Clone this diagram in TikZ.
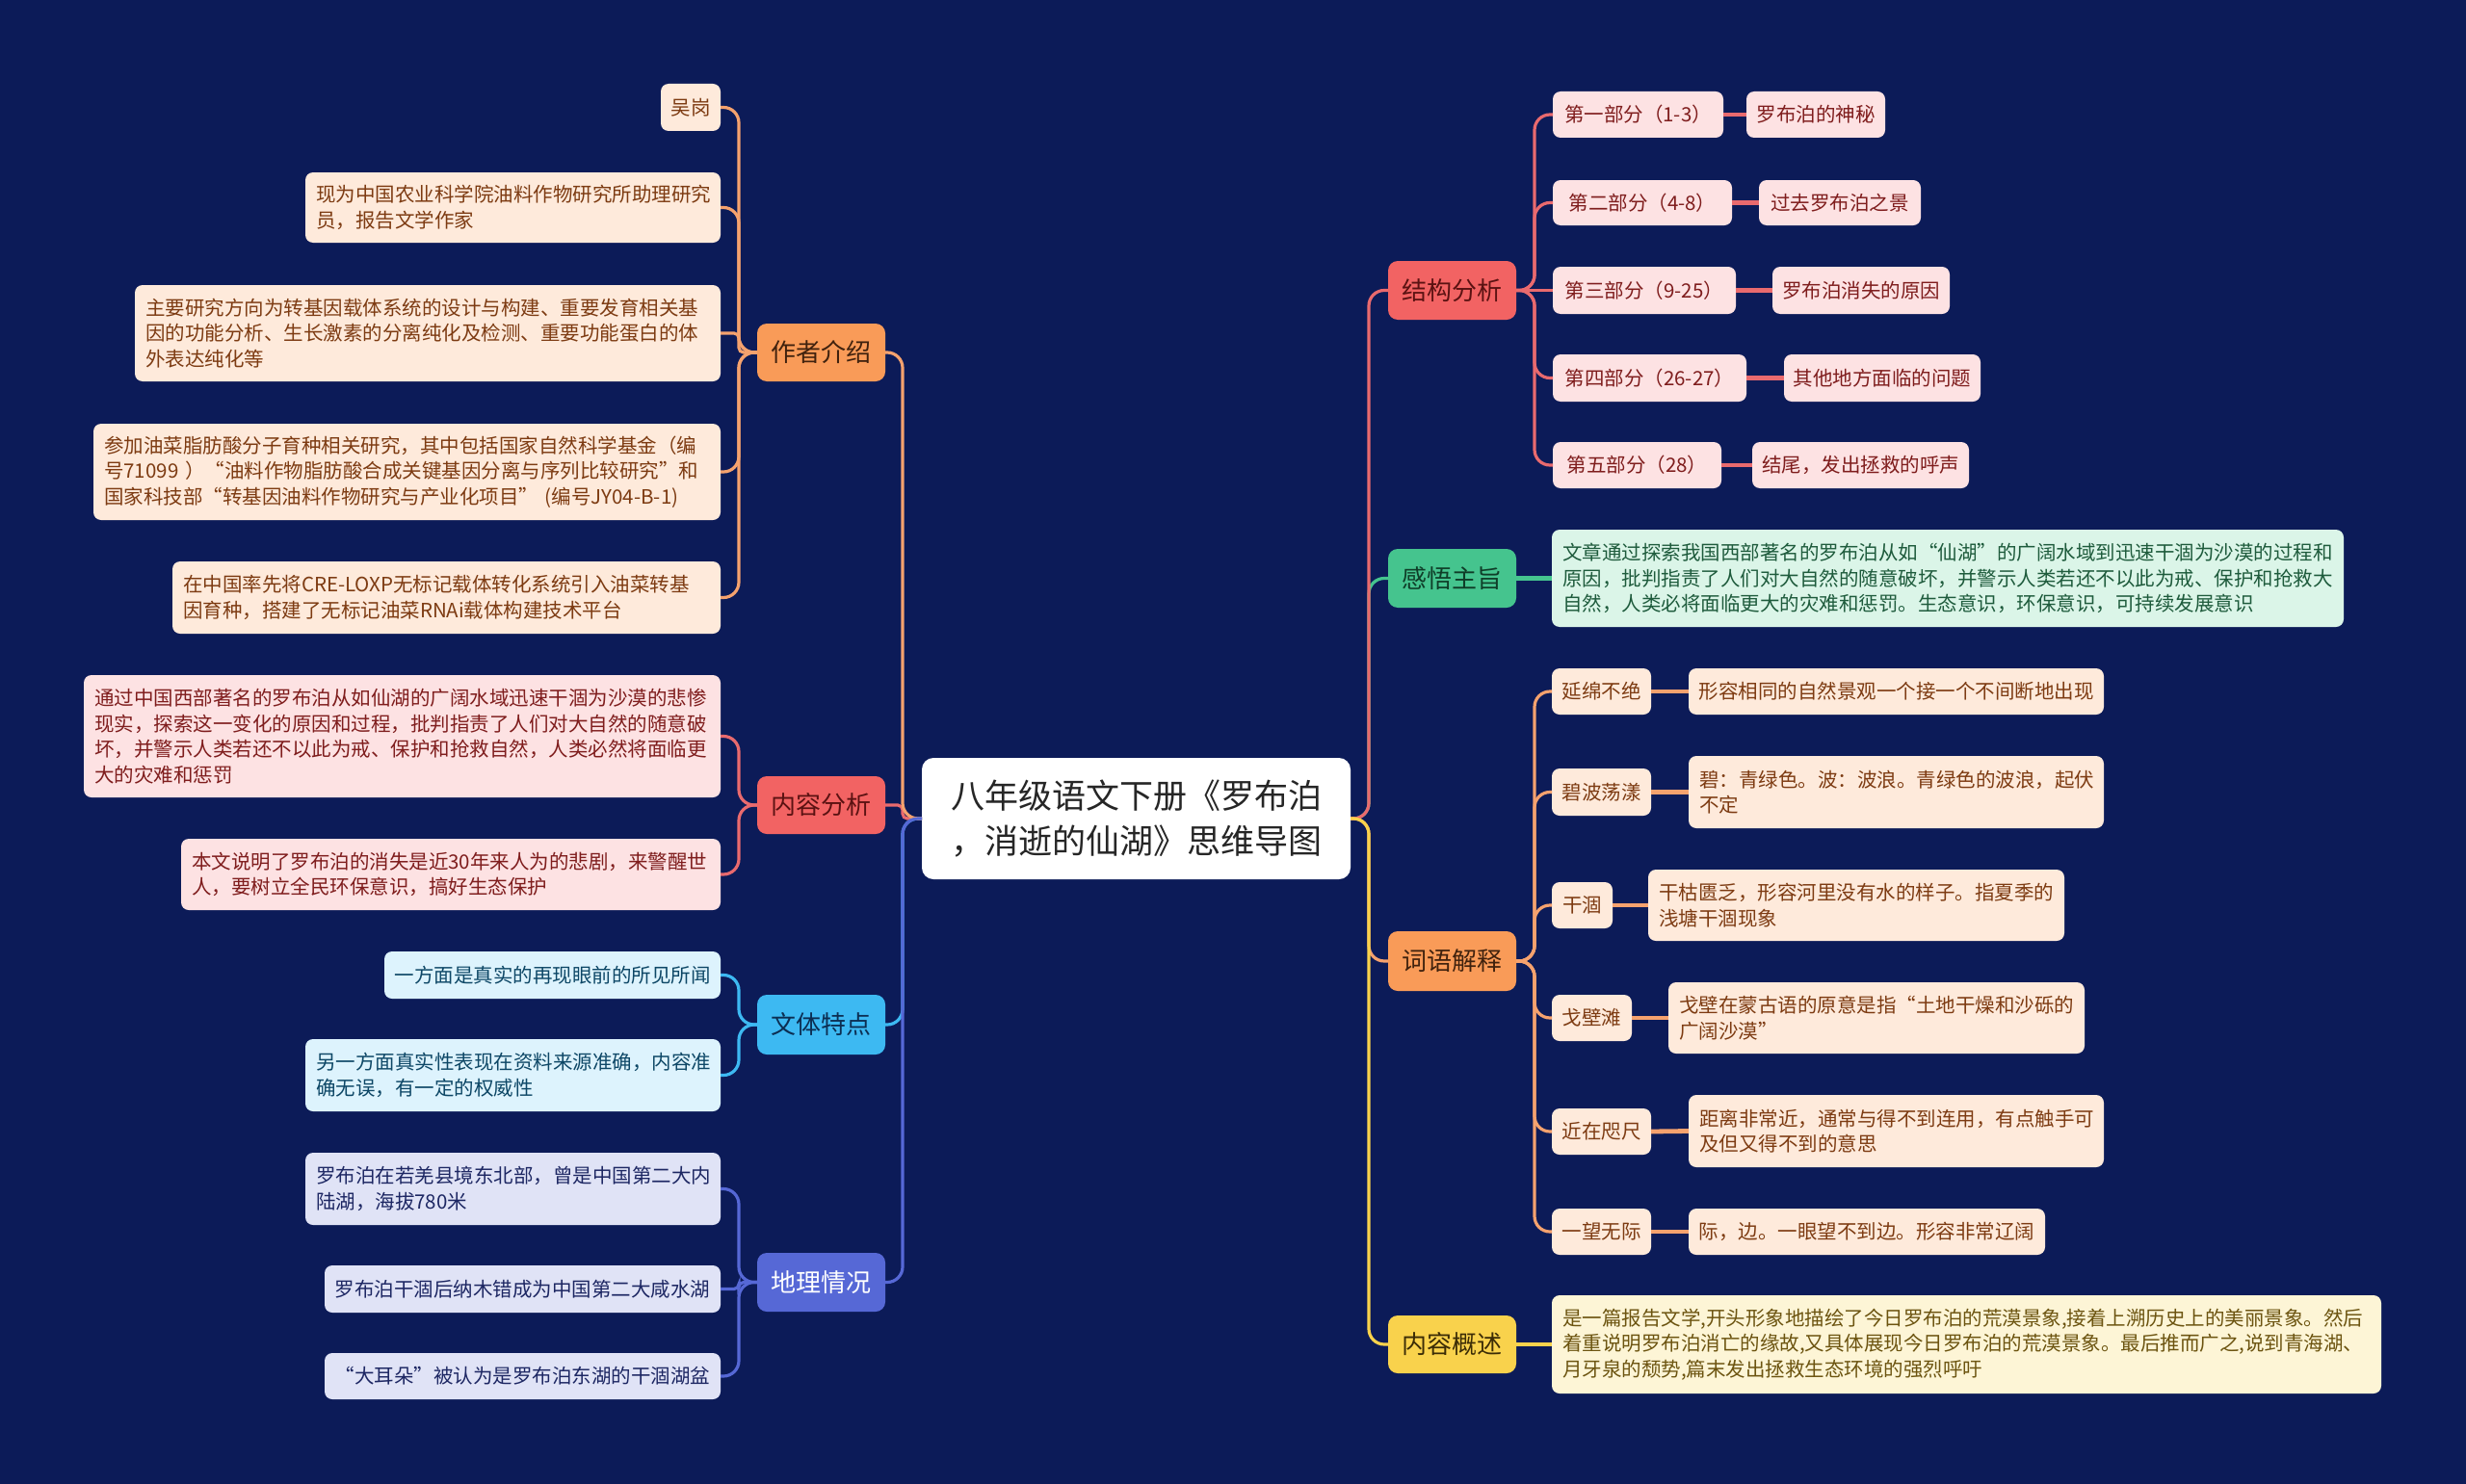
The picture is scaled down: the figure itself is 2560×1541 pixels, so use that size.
\documentclass[tikz,border=0pt]{standalone}
\usepackage{fontspec}
\setmainfont{Noto Sans CJK SC}
\definecolor{bg}{HTML}{0C1B58}
\definecolor{nO}{HTML}{F99B58}\definecolor{lO}{HTML}{F5A26E}\definecolor{fO}{HTML}{FEEADB}\definecolor{tO}{HTML}{7D3B12}\definecolor{mO}{HTML}{40220E}
\definecolor{nR}{HTML}{F26363}\definecolor{lR}{HTML}{E96A6E}\definecolor{fR}{HTML}{FDE2E3}\definecolor{tR}{HTML}{7F1D1D}\definecolor{mR}{HTML}{5B1212}
\definecolor{nB}{HTML}{3DB9F2}\definecolor{lB}{HTML}{3DB9F2}\definecolor{fB}{HTML}{DDF3FD}\definecolor{tB}{HTML}{0D4766}\definecolor{mB}{HTML}{0C2E52}
\definecolor{nI}{HTML}{5668D6}\definecolor{lI}{HTML}{5668D6}\definecolor{fI}{HTML}{E0E3F6}\definecolor{tI}{HTML}{1D2763}\definecolor{mI}{HTML}{FFFFFF}
\definecolor{nG}{HTML}{45C48E}\definecolor{lG}{HTML}{45C48E}\definecolor{fG}{HTML}{DBF5E8}\definecolor{tG}{HTML}{1E5B3C}\definecolor{mG}{HTML}{0F3D28}
\definecolor{nY}{HTML}{F9D24C}\definecolor{lY}{HTML}{F9D24C}\definecolor{fY}{HTML}{FDF5D6}\definecolor{tY}{HTML}{6C5410}\definecolor{mY}{HTML}{3B2C06}
\newcommand\lffont{\fontsize{10.25pt}{13.3pt}\selectfont}
\newcommand\mnfont{\fontsize{13pt}{16pt}\selectfont}
\newcommand\ttlfont{\fontsize{17.5pt}{23.5pt}\selectfont}
% multi-line box: name, style, x1, y1, x2, y2, text
\newcommand\bxm[7]{%
  \pgfmathsetmacro\bxcx{(#3+#5)/2}%
  \pgfmathsetmacro\bxcy{(#4+#6)/2}%
  \pgfmathsetmacro\bxw{(#5-#3)*0.5}%
  \pgfmathsetmacro\bxh{(#6-#4)*0.5}%
  \pgfmathsetmacro\bxtw{(#5-#3-22)*0.5}%
  \node[#2, minimum width=\bxw pt, minimum height=\bxh pt, text width=\bxtw pt, align=left] (#1) at (\bxcx,\bxcy) {#7};}
% single-line box
\newcommand\bxs[7]{%
  \pgfmathsetmacro\bxcx{(#3+#5)/2}%
  \pgfmathsetmacro\bxcy{(#4+#6)/2}%
  \pgfmathsetmacro\bxw{(#5-#3)*0.5}%
  \pgfmathsetmacro\bxh{(#6-#4)*0.5}%
  \node[#2, minimum width=\bxw pt, minimum height=\bxh pt] (#1) at (\bxcx,\bxcy) {#7};}
\tikzset{
  base/.style={rounded corners=4pt, inner sep=0pt, outer sep=0pt, font=\lffont},
  lfO/.style={base, fill=fO, text=tO},
  lfR/.style={base, fill=fR, text=tR},
  lfB/.style={base, fill=fB, text=tB},
  lfI/.style={base, fill=fI, text=tI},
  lfG/.style={base, fill=fG, text=tG},
  lfY/.style={base, fill=fY, text=tY},
  mn/.style={rounded corners=5pt, inner sep=0pt, outer sep=0pt, font=\mnfont},
  mnO/.style={mn, fill=nO, text=mO},
  mnR/.style={mn, fill=nR, text=mR},
  mnB/.style={mn, fill=nB, text=mB},
  mnI/.style={mn, fill=nI, text=mI},
  mnG/.style={mn, fill=nG, text=mG},
  mnY/.style={mn, fill=nY, text=mY},
  conn/.style={line width=1.6pt, rounded corners=8pt},
  connS/.style={line width=1.6pt, rounded corners=2.5pt},
  lnk/.style={line width=2.4pt},
}
\begin{document}
\begin{tikzpicture}[x=0.5pt, y=-0.5pt]
\useasboundingbox (0,0) rectangle (2560,1541);
\fill[bg] (0,0) rectangle (2560,1541);
% centre
\node[rounded corners=6pt, fill=white, text=black!85, font=\ttlfont, inner sep=0pt, outer sep=0pt,
  minimum width=222.5pt, minimum height=63pt, align=center] (ctr) at (1179.5,850)
  {八年级语文下册《罗布泊\\，消逝的仙湖》思维导图};
% main branches
\bxs{zz}{mnO}{786}{336}{919}{396}{作者介绍}
\bxs{nr}{mnR}{786}{806}{919}{866}{内容分析}
\bxs{wt}{mnB}{786}{1033}{919}{1095}{文体特点}
\bxs{dl}{mnI}{786}{1301}{919}{1362}{地理情况}
\bxs{jg}{mnR}{1441}{271}{1574}{332}{结构分析}
\bxs{gw}{mnG}{1441}{570}{1574}{631}{感悟主旨}
\bxs{cy}{mnO}{1441}{967}{1574}{1029}{词语解释}
\bxs{gs}{mnY}{1441}{1366}{1574}{1426}{内容概述}
% author
\bxs{a1}{lfO}{686}{87}{748}{136}{吴岗}
\bxm{a2}{lfO}{317}{179}{748}{252}{现为中国农业科学院油料作物研究所助理研究\\员，报告文学作家}
\bxm{a3}{lfO}{140}{296}{748}{396}{主要研究方向为转基因载体系统的设计与构建、重要发育相关基\\因的功能分析、生长激素的分离纯化及检测、重要功能蛋白的体\\外表达纯化等}
\bxm{a4}{lfO}{97}{440}{748}{540}{参加油菜脂肪酸分子育种相关研究，其中包括国家自然科学基金（编\\号71099~）“油料作物脂肪酸合成关键基因分离与序列比较研究”和\\国家科技部“转基因油料作物研究与产业化项目”~(编号JY04-B-1)}
\bxm{a5}{lfO}{179}{583}{748}{658}{在中国率先将CRE-LOXP无标记载体转化系统引入油菜转基\\因育种，搭建了无标记油菜RNAi载体构建技术平台}
% content analysis
\bxm{b1}{lfR}{87}{701}{748}{828}{通过中国西部著名的罗布泊从如仙湖的广阔水域迅速干涸为沙漠的悲惨\\现实，探索这一变化的原因和过程，批判指责了人们对大自然的随意破\\坏，并警示人类若还不以此为戒、保护和抢救自然，人类必然将面临更\\大的灾难和惩罚}
\bxm{b2}{lfR}{188}{871}{748}{945}{本文说明了罗布泊的消失是近30年来人为的悲剧，来警醒世\\人，要树立全民环保意识，搞好生态保护}
% style
\bxs{c1}{lfB}{399}{988}{748}{1037}{一方面是真实的再现眼前的所见所闻}
\bxm{c2}{lfB}{317}{1079}{748}{1154}{另一方面真实性表现在资料来源准确，内容准\\确无误，有一定的权威性}
% geography
\bxm{d1}{lfI}{317}{1197}{748}{1272}{罗布泊在若羌县境东北部，曾是中国第二大内\\陆湖，海拔780米}
\bxs{d2}{lfI}{337}{1314}{748}{1363}{罗布泊干涸后纳木错成为中国第二大咸水湖}
\bxs{d3}{lfI}{337}{1405}{748}{1453}{“大耳朵”被认为是罗布泊东湖的干涸湖盆}
% structure
\bxs{s1}{lfR}{1612}{95}{1789}{143}{第一部分（1-3）}
\bxs{t1}{lfR}{1813}{95}{1957}{143}{罗布泊的神秘}
\bxs{s2}{lfR}{1612}{187}{1798}{234}{第二部分（4-8）}
\bxs{t2}{lfR}{1826}{187}{1994}{234}{过去罗布泊之景}
\bxs{s3}{lfR}{1612}{277}{1802}{326}{第三部分（9-25）}
\bxs{t3}{lfR}{1840}{277}{2024}{326}{罗布泊消失的原因}
\bxs{s4}{lfR}{1612}{368}{1813}{417}{第四部分（26-27）}
\bxs{t4}{lfR}{1852}{368}{2056}{417}{其他地方面临的问题}
\bxs{s5}{lfR}{1612}{459}{1787}{507}{第五部分（28）}
\bxs{t5}{lfR}{1819}{459}{2044}{507}{结尾，发出拯救的呼声}
% theme
\bxm{g1}{lfG}{1611}{550}{2433}{651}{文章通过探索我国西部著名的罗布泊从如“仙湖”的广阔水域到迅速干涸为沙漠的过程和\\原因，批判指责了人们对大自然的随意破坏，并警示人类若还不以此为戒、保护和抢救大\\自然，人类必将面临更大的灾难和惩罚。生态意识，环保意识，可持续发展意识}
% words
\bxs{w1}{lfO}{1611}{694}{1714}{742}{延绵不绝}
\bxs{v1}{lfO}{1753}{694}{2184}{742}{形容相同的自然景观一个接一个不间断地出现}
\bxs{w2}{lfO}{1611}{798}{1714}{847}{碧波荡漾}
\bxm{v2}{lfO}{1753}{785}{2184}{860}{碧：青绿色。波：波浪。青绿色的波浪，起伏\\不定}
\bxs{w3}{lfO}{1611}{916}{1674}{964}{干涸}
\bxm{v3}{lfO}{1711}{903}{2143}{977}{干枯匮乏，形容河里没有水的样子。指夏季的\\浅塘干涸现象}
\bxs{w4}{lfO}{1611}{1033}{1694}{1081}{戈壁滩}
\bxm{v4}{lfO}{1732}{1020}{2164}{1094}{戈壁在蒙古语的原意是指“土地干燥和沙砾的\\广阔沙漠”}
\bxs{w5}{lfO}{1611}{1151}{1714}{1199}{近在咫尺}
\bxm{v5}{lfO}{1753}{1137}{2184}{1212}{距离非常近，通常与得不到连用，有点触手可\\及但又得不到的意思}
\bxs{w6}{lfO}{1611}{1255}{1714}{1303}{一望无际}
\bxs{v6}{lfO}{1753}{1255}{2123}{1303}{际，边。一眼望不到边。形容非常辽阔}
% summary
\bxm{y1}{lfY}{1611}{1345}{2472}{1447}{是一篇报告文学,开头形象地描绘了今日罗布泊的荒漠景象,接着上溯历史上的美丽景象。然后\\着重说明罗布泊消亡的缘故,又具体展现今日罗布泊的荒漠景象。最后推而广之,说到青海湖、\\月牙泉的颓势,篇末发出拯救生态环境的强烈呼吁}
% ---- connectors: centre to main (left)
\draw[connS, lR] (ctr.west) -- (937,850) |- (nr.east);
\draw[conn, lB] (ctr.west) -- (937,850) |- (wt.east);
\draw[conn, lO] (ctr.west) -- (937,850) |- (zz.east);
\draw[conn, lI] (ctr.west) -- (937,850) |- (dl.east);
% centre to main (right)
\draw[conn, lG] (ctr.east) -- (1421,850) |- (gw.west);
\draw[conn, lO] (ctr.east) -- (1421,850) |- (cy.west);
\draw[conn, lR] (ctr.east) -- (1421,850) |- (jg.west);
\draw[conn, lY] (ctr.east) -- (1421,850) |- (gs.west);
% author leaves
\draw[conn, lO] (zz.west) -- (767,366) |- (a1.east);
\draw[conn, lO] (zz.west) -- (767,366) |- (a2.east);
\draw[connS, lO] (zz.west) -- (767,366) |- (a3.east);
\draw[conn, lO] (zz.west) -- (767,366) |- (a4.east);
\draw[conn, lO] (zz.west) -- (767,366) |- (a5.east);
% content leaves
\draw[conn, lR] (nr.west) -- (767,836) |- (b1.east);
\draw[conn, lR] (nr.west) -- (767,836) |- (b2.east);
% style leaves
\draw[conn, lB] (wt.west) -- (767,1064) |- (c1.east);
\draw[conn, lB] (wt.west) -- (767,1064) |- (c2.east);
% geography leaves
\draw[conn, lI] (dl.west) -- (767,1331.5) |- (d1.east);
\draw[connS, lI] (dl.west) -- (767,1331.5) |- (d2.east);
\draw[conn, lI] (dl.west) -- (767,1331.5) |- (d3.east);
% structure children
\draw[conn, lR] (jg.east) -- (1593,301.5) |- (s1.west);
\draw[conn, lR] (jg.east) -- (1593,301.5) |- (s2.west);
\draw[line width=1.6pt, lR] (jg.east) -- (s3.west);
\draw[conn, lR] (jg.east) -- (1593,301.5) |- (s4.west);
\draw[conn, lR] (jg.east) -- (1593,301.5) |- (s5.west);
\draw[lnk, lR] (s1.east) -- (t1.west);
\draw[lnk, lR] (s2.east) -- (t2.west);
\draw[lnk, lR] (s3.east) -- (t3.west);
\draw[lnk, lR] (s4.east) -- (t4.west);
\draw[lnk, lR] (s5.east) -- (t5.west);
% theme & summary
\draw[lnk, lG] (gw.east) -- (g1.west);
\draw[lnk, lY] (gs.east) -- (y1.west);
% words children
\draw[conn, lO] (cy.east) -- (1593,998) |- (w1.west);
\draw[conn, lO] (cy.east) -- (1593,998) |- (w2.west);
\draw[conn, lO] (cy.east) -- (1593,998) |- (w3.west);
\draw[conn, lO] (cy.east) -- (1593,998) |- (w4.west);
\draw[conn, lO] (cy.east) -- (1593,998) |- (w5.west);
\draw[conn, lO] (cy.east) -- (1593,998) |- (w6.west);
\draw[lnk, lO] (w1.east) -- (v1.west);
\draw[lnk, lO] (w2.east) -- (v2.west);
\draw[lnk, lO] (w3.east) -- (v3.west);
\draw[lnk, lO] (w4.east) -- (v4.west);
\draw[lnk, lO] (w5.east) -- (v5.west);
\draw[lnk, lO] (w6.east) -- (v6.west);
\end{tikzpicture}
\end{document}
